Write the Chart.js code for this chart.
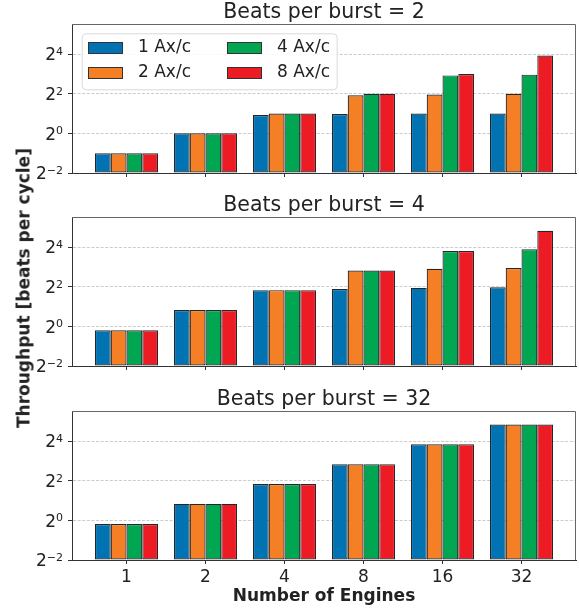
<!DOCTYPE html>
<html>
<head>
<meta charset="utf-8">
<script src="https://cdn.jsdelivr.net/npm/chart.js@4.4.1/dist/chart.umd.min.js"></script>
<style>
  body { margin: 0; background: #fff; }
  #fig { position: relative; width: 579px; height: 611px; overflow: hidden; }
  #fig canvas { position: absolute; left: 0; }
  #ylabel {
    position: absolute; left: 24px; top: 288px;
    transform: translate(-50%, -50%) rotate(-90deg);
    font: bold 17px "DejaVu Sans"; color: #222; white-space: nowrap; line-height: 1;
  }
</style>
</head>
<body>
<div id="fig">
  <canvas id="c1" width="579" height="179" style="top:0px"></canvas>
  <canvas id="c2" width="579" height="179" style="top:193px"></canvas>
  <canvas id="c3" width="579" height="224" style="top:387px"></canvas>
  <div id="ylabel">Throughput [beats per cycle]</div>
</div>
<script>
const engines = ["1", "2", "4", "8", "16", "32"];
const axLabels = ["1 Ax/c", "2 Ax/c", "4 Ax/c", "8 Ax/c"];
const axColors = ["#0172b2", "#f47f24", "#00a651", "#ed1c24"];
const yTickValues = [0.25, 1, 4, 16];
const yMin = 0.25;
const yMax = Math.pow(2, 5.52);

// beats per burst = 2
const burst2Ax1 = [0.5, 1, 1.9, 1.97, 2, 2];
const burst2Ax2 = [0.5, 1, 2, 3.8, 3.9, 4];
const burst2Ax4 = [0.5, 1, 2, 4, 7.6, 7.8];
const burst2Ax8 = [0.5, 1, 2, 4, 8, 15.2];

// beats per burst = 4
const burst4Ax1 = [0.87, 1.77, 3.55, 3.7, 3.84, 3.94];
const burst4Ax2 = [0.87, 1.77, 3.55, 7.06, 7.5, 7.7];
const burst4Ax4 = [0.87, 1.77, 3.55, 7.06, 14.0, 14.9];
const burst4Ax8 = [0.87, 1.77, 3.55, 7.06, 14.0, 28.4];

// beats per burst = 32
const burst32Ax1 = [0.88, 1.78, 3.56, 7.1, 14.3, 28.6];
const burst32Ax2 = [0.88, 1.78, 3.56, 7.1, 14.3, 28.6];
const burst32Ax4 = [0.88, 1.78, 3.56, 7.1, 14.3, 28.6];
const burst32Ax8 = [0.88, 1.78, 3.56, 7.1, 14.3, 28.6];

const panels = [
  { id: "c1", title: "Beats per burst = 2", series: [burst2Ax1, burst2Ax2, burst2Ax4, burst2Ax8], legend: true, xLabels: false, xHeight: 6 },
  { id: "c2", title: "Beats per burst = 4", series: [burst4Ax1, burst4Ax2, burst4Ax4, burst4Ax8], legend: false, xLabels: false, xHeight: 6 },
  { id: "c3", title: "Beats per burst = 32", series: [burst32Ax1, burst32Ax2, burst32Ax4, burst32Ax8], legend: false, xLabels: true, xHeight: 51 },
];

Chart.defaults.font.family = "'DejaVu Sans', sans-serif";
Chart.defaults.color = "#222";

// y tick labels as 2^n with a raised exponent
const pow2Ticks = {
  id: "pow2Ticks",
  afterDraw(chart) {
    const { ctx } = chart;
    const scale = chart.scales.y;
    ctx.save();
    ctx.fillStyle = "#222";
    ctx.textAlign = "right";
    ctx.textBaseline = "alphabetic";
    scale.ticks.forEach((tick) => {
      const y = scale.getPixelForValue(tick.value);
      const exp = Math.round(Math.log2(tick.value));
      const expText = exp < 0 ? "\u2212" + -exp : String(exp);
      const right = scale.right - 9;
      ctx.font = "11px 'DejaVu Sans'";
      const w = ctx.measureText(expText).width;
      ctx.fillText(expText, right, y + 1);
      ctx.font = "17px 'DejaVu Sans'";
      ctx.fillText("2", right - w, y + 6.2);
    });
    ctx.restore();
  },
};

// top and right spines
const frame = {
  id: "frame",
  afterDraw(chart) {
    const { ctx, chartArea: a } = chart;
    ctx.save();
    ctx.strokeStyle = "#666";
    ctx.lineWidth = 1;
    ctx.beginPath();
    ctx.moveTo(Math.floor(a.left), Math.floor(a.top) + 0.5);
    ctx.lineTo(Math.floor(a.right) - 0.5, Math.floor(a.top) + 0.5);
    ctx.lineTo(Math.floor(a.right) - 0.5, Math.floor(a.bottom));
    ctx.stroke();
    ctx.restore();
  },
};

// matplotlib style legend box, two columns
const boxLegend = {
  id: "boxLegend",
  afterDraw(chart, args, opts) {
    if (!opts.display) return;
    const { ctx, chartArea } = chart;
    const x0 = chartArea.left + 9.7;
    const y0 = chartArea.top + 9.3;
    ctx.save();
    ctx.beginPath();
    ctx.roundRect(x0 + 0.5, y0 + 0.5, 255, 56, 4);
    ctx.fillStyle = "rgba(255,255,255,0.85)";
    ctx.fill();
    ctx.strokeStyle = "#d9d9d9";
    ctx.lineWidth = 1;
    ctx.stroke();
    ctx.font = "17px 'DejaVu Sans'";
    ctx.textBaseline = "middle";
    ctx.textAlign = "left";
    chart.data.datasets.forEach((ds, i) => {
      const col = Math.floor(i / 2);
      const row = i % 2;
      const px = Math.round(x0 + 6.6 + col * 138.4);
      const py = Math.round(y0 + 9 + row * 25);
      ctx.fillStyle = ds.backgroundColor;
      ctx.fillRect(px, py, 35, 12);
      ctx.strokeStyle = "#333";
      ctx.strokeRect(px + 0.5, py + 0.5, 34, 11);
      ctx.fillStyle = "#222";
      ctx.fillText(ds.label, px + 50, py + 6);
    });
    ctx.restore();
  },
};

panels.forEach((p) => {
  new Chart(document.getElementById(p.id), {
    type: "bar",
    data: {
      datasets: p.series.map((vals, i) => ({
        label: axLabels[i],
        data: vals.map((v, j) => ({ x: j, y: v })),
        backgroundColor: axColors[i],
        borderColor: "#262626",
        borderWidth: 1.2,
        borderSkipped: false,
        base: yMin,
        categoryPercentage: 0.8,
        barPercentage: 1.0,
      })),
    },
    options: {
      responsive: false,
      devicePixelRatio: 1,
      animation: false,
      events: [],
      layout: { padding: { left: 0, right: 3, top: 0, bottom: 0 } },
      plugins: {
        legend: { display: false },
        title: { display: false },
        tooltip: { enabled: false },
        boxLegend: { display: p.legend },
      },
      scales: {
        x: {
          type: "linear",
          position: "bottom",
          min: -0.69,
          max: 5.69,
          bounds: "data",
          offset: false,
          afterBuildTicks: (s) => { s.ticks = engines.map((e, i) => ({ value: i })); },
          grid: { offset: false, drawOnChartArea: false, drawTicks: true, tickLength: 4, tickColor: "#333", tickWidth: 1 },
          border: { color: "#333", width: 1 },
          ticks: {
            display: p.xLabels,
            autoSkip: false,
            maxRotation: 0,
            padding: 3,
            color: "#222",
            font: { size: 17 },
            callback: (v) => engines[v],
          },
          title: {
            display: p.xLabels,
            text: "Number of Engines",
            color: "#222",
            font: { size: 17, weight: "bold" },
            padding: { top: 0, bottom: 4 },
          },
          afterFit: (s) => { s.height = p.xHeight; },
        },
        xTop: {
          type: "linear",
          position: "top",
          offset: false,
          grid: { display: false, drawTicks: false },
          border: { display: false },
          ticks: { display: false },
          title: {
            display: true,
            text: p.title,
            color: "#222",
            font: { size: 20.5, lineHeight: 1 },
            padding: { top: 2, bottom: 0 },
          },
          afterFit: (s) => { s.height = 24; },
        },
        y: {
          type: "logarithmic",
          min: yMin,
          max: yMax,
          bounds: "data",
          afterBuildTicks: (s) => { s.ticks = yTickValues.map((v) => ({ value: v })); },
          ticks: { display: false },
          grid: {
            color: (c) => (c.tick && c.tick.value === yMin ? "rgba(0,0,0,0)" : "#cccccc"),
            lineWidth: 1,
            tickLength: 4,
            tickColor: "#333",
            tickWidth: 1,
            tickBorderDash: [],
          },
          border: { color: "#333", width: 1, dash: [3, 1.6] },
          afterFit: (s) => { s.width = 72; },
        },
      },
    },
    plugins: [pow2Ticks, frame, boxLegend],
  });
});
</script>
</body>
</html>
